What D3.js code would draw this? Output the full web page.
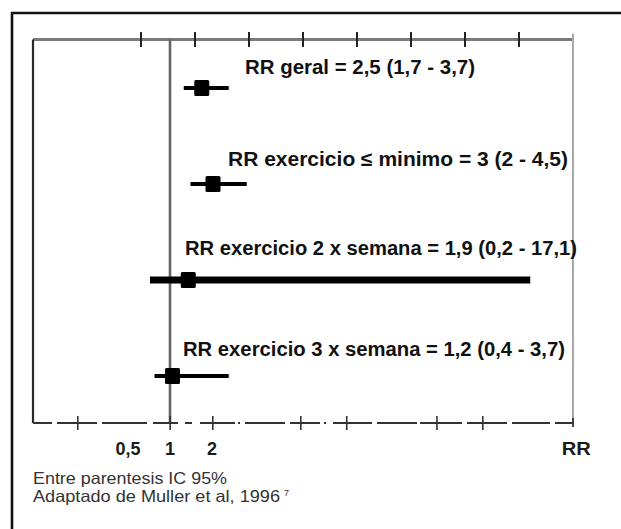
<!DOCTYPE html>
<html>
<head>
<meta charset="utf-8">
<script src="https://cdn.jsdelivr.net/npm/d3@7/dist/d3.min.js"></script>
<style>
  html, body { margin: 0; padding: 0; background: #fff; }
  svg { display: block; }
</style>
</head>
<body>
<script>
// ---------- DATA ----------
const rowLabels = [
  "RR geral = 2,5 (1,7 - 3,7)",
  "RR exercicio \u2264 minimo = 3 (2 - 4,5)",
  "RR exercicio 2 x semana = 1,9 (0,2 - 17,1)",
  "RR exercicio 3 x semana = 1,2 (0,4 - 3,7)"
];
const rrValues = [2.5, 3, 1.9, 1.2];
const ciLow    = [1.7, 2, 0.2, 0.4];
const ciHigh   = [3.7, 4.5, 17.1, 3.7];

const axisTickValues = [0.5, 1, 2];
const axisTickLabels = ["0,5", "1", "2"];
const axisTitle = "RR";
const topTickUnits = [2, 3, 4, 5, 6, 7, 8, 9];
const bottomTickUnits = [0.83, 2.54, 3.33, 4.96, 5.81, 7.48, 8.33];
const refValue = 1;
const footnotes = ["Entre parentesis IC 95%", "Adaptado de Muller et al, 1996"];
const footnoteSup = "7";

// ---------- LAYOUT / STYLE ----------
const W = 621, H = 529;
const plot = { left: 33, right: 573, top: 39.5, bottom: 423 };
const labelX = [245, 228, 185, 183];
const labelBaseDy = [-14, -18, -25, -20];
const labelWidths = [230, 340, 392, 382];
const ciWidths = [4, 4, 7, 4];
const bottomDash = "19,5,40,5,45,6,25,7,7,8,35,3,2,5,40,5,30,4,2,7,39,5,40,3,42,5,40,5,38,5,18";
const FONT = "Liberation Sans, Arial, sans-serif";

const svg = d3.select("body").append("svg").attr("width", W).attr("height", H);

// scales
const xRR = d3.scaleLinear().domain([0, 20]).range([145.5, 595.5]);     // value scale used for marks
const xAxisLab = d3.scaleLog().base(2).domain([0.5, 2]).range([128, 212]); // labelled axis positions
const xFrame = d3.scaleLinear().domain([0, 10]).range([plot.left, plot.right]); // frame tick units
const yRow = d3.scalePoint().domain(d3.range(rowLabels.length)).range([88, 376]);

// outer frame (cropped)
svg.append("path")
  .attr("d", `M12,${H + 2} L12,13 L${W + 2},13`)
  .attr("fill", "none").attr("stroke", "#111").attr("stroke-width", 2.6);

// top axis
svg.append("line").attr("x1", plot.left).attr("x2", plot.right)
  .attr("y1", plot.top).attr("y2", plot.top)
  .attr("stroke", "#7a7a7a").attr("stroke-width", 3);
svg.selectAll(".ttick").data(topTickUnits).join("line")
  .attr("x1", d => xFrame(d)).attr("x2", d => xFrame(d))
  .attr("y1", plot.top - 7.5).attr("y2", plot.top + 7.5)
  .attr("stroke", "#222").attr("stroke-width", 2);
svg.append("line").attr("x1", plot.right).attr("x2", plot.right)
  .attr("y1", plot.top - 6).attr("y2", plot.bottom)
  .attr("stroke", "#a8a8a8").attr("stroke-width", 2);

// left plot border
svg.append("line").attr("x1", plot.left).attr("x2", plot.left)
  .attr("y1", plot.top).attr("y2", plot.bottom)
  .attr("stroke", "#2a2a2a").attr("stroke-width", 2.2);

// reference line at RR = 1
svg.append("line").attr("x1", xAxisLab(refValue)).attr("x2", xAxisLab(refValue))
  .attr("y1", plot.top).attr("y2", plot.bottom)
  .attr("stroke", "#666").attr("stroke-width", 2.6);

// bottom dashed axis
svg.append("line").attr("x1", plot.left).attr("x2", plot.right)
  .attr("y1", plot.bottom).attr("y2", plot.bottom)
  .attr("stroke", "#333").attr("stroke-width", 2.2)
  .attr("stroke-dasharray", bottomDash);
svg.selectAll(".btick").data(bottomTickUnits).join("line")
  .attr("x1", d => xFrame(d)).attr("x2", d => xFrame(d))
  .attr("y1", plot.bottom - 7).attr("y2", plot.bottom + 7)
  .attr("stroke", "#333").attr("stroke-width", 1.6);
svg.append("line").attr("x1", plot.right).attr("x2", plot.right)
  .attr("y1", plot.bottom - 5).attr("y2", plot.bottom + 4)
  .attr("stroke", "#333").attr("stroke-width", 1.8);

// axis labels
svg.selectAll(".alab").data(axisTickValues).join("text")
  .attr("x", d => xAxisLab(d)).attr("y", 455)
  .attr("text-anchor", "middle")
  .attr("font-family", FONT)
  .attr("font-weight", "bold").attr("font-size", 18).attr("fill", "#1a1a1a")
  .text((d, i) => axisTickLabels[i]);
svg.append("text").attr("x", xFrame(10.06)).attr("y", 455)
  .attr("text-anchor", "middle")
  .attr("font-family", FONT)
  .attr("font-weight", "bold").attr("font-size", 18).attr("fill", "#1a1a1a")
  .attr("textLength", 29).attr("lengthAdjust", "spacingAndGlyphs")
  .text(axisTitle);

// CI lines + squares
const rows = d3.range(rowLabels.length);
svg.selectAll(".ci").data(rows).join("line")
  .attr("x1", i => xRR(ciLow[i])).attr("x2", i => xRR(ciHigh[i]))
  .attr("y1", i => yRow(i)).attr("y2", i => yRow(i))
  .attr("stroke", "#000").attr("stroke-width", i => ciWidths[i]);
const sq = 15;
svg.selectAll(".pt").data(rows).join("rect")
  .attr("x", i => xRR(rrValues[i]) - sq / 2).attr("y", i => yRow(i) - sq / 2 - 0.5)
  .attr("width", sq).attr("height", sq + 1)
  .attr("rx", 1.5)
  .attr("fill", "#000");

// row labels
svg.selectAll(".rlab").data(rows).join("text")
  .attr("x", i => labelX[i]).attr("y", i => yRow(i) + labelBaseDy[i])
  .attr("font-family", FONT)
  .attr("font-weight", "bold").attr("font-size", 20).attr("fill", "#111")
  .attr("textLength", i => labelWidths[i]).attr("lengthAdjust", "spacingAndGlyphs")
  .text(i => rowLabels[i]);

// footnotes
svg.append("text").attr("x", 33).attr("y", 484)
  .attr("font-family", FONT)
  .attr("font-size", 16.5).attr("fill", "#333")
  .attr("textLength", 194).attr("lengthAdjust", "spacingAndGlyphs")
  .text(footnotes[0]);
const fn2 = svg.append("text").attr("x", 33).attr("y", 502)
  .attr("font-family", FONT)
  .attr("font-size", 16.5).attr("fill", "#333");
fn2.append("tspan").attr("textLength", 247).attr("lengthAdjust", "spacingAndGlyphs").text(footnotes[1]);
fn2.append("tspan").attr("dx", 4).attr("dy", -6).attr("font-size", 9).text(footnoteSup);
</script>
</body>
</html>
